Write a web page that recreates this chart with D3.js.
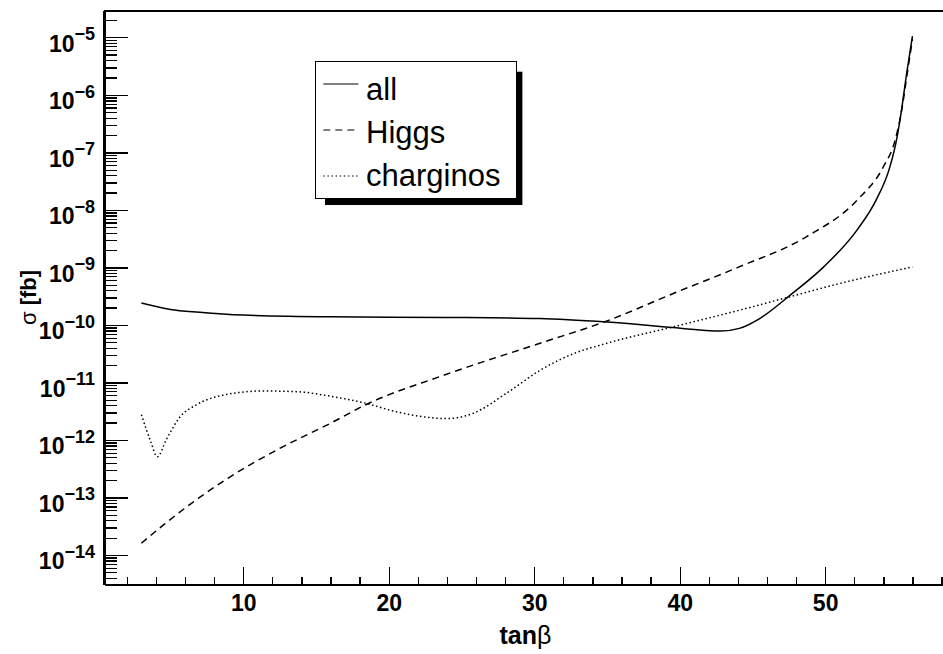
<!DOCTYPE html>
<html>
<head>
<meta charset="utf-8">
<script src="https://cdn.jsdelivr.net/npm/d3@7"></script>
<style>
  html, body { margin: 0; padding: 0; background: #fff; }
  svg { display: block; overflow: hidden; }
  text { font-family: "Liberation Sans", Arial, Helvetica, sans-serif; fill: #000; }
</style>
</head>
<body>
<svg id="chart" width="943" height="654"></svg>
<script>
// Cross sections (fb) as a function of tan(beta)
const tanBetaAll = [3, 5, 7, 10, 16, 24, 30.4, 35, 40.2, 42.8, 44.1, 45.5, 47.6, 49.9, 52.2, 53.5, 54.45, 54.9, 55.25, 55.6, 56];
const sigmaAll   = [2.4e-10, 1.86e-10, 1.66e-10, 1.48e-10, 1.38e-10, 1.35e-10, 1.29e-10, 1.12e-10, 8.7e-11, 7.8e-11, 8.7e-11,
                    1.29e-10, 3.3e-10, 1.02e-9, 4.5e-9, 1.48e-8, 5.6e-8, 1.62e-7, 5.5e-7, 2.35e-6, 1.05e-5];

const tanBetaHiggs = [3, 4.5, 7, 9, 12.5, 16, 18.6, 23.5, 30.4, 35, 39.6, 44, 48.7, 52.2, 54, 54.8, 55.25, 55.6, 56];
const sigmaHiggs   = [1.6e-14, 3.3e-14, 1.0e-13, 2.2e-13, 7.1e-13, 1.95e-12, 4.3e-12, 1.26e-11, 4.8e-11, 1.17e-10,
                      3.55e-10, 1.0e-9, 3.4e-9, 1.48e-8, 5.6e-8, 1.6e-7, 5.2e-7, 2.0e-6, 9.3e-6];

const tanBetaCharginos = [3, 3.6, 4.1, 4.7, 5.65, 6.8, 8.6, 11.4, 13.7, 16, 18.25, 20.5, 22.8, 24, 25.8, 28.1, 30.4,
                          32.7, 35, 39.6, 44.1, 47.6, 51, 56];
const sigmaCharginos   = [2.75e-12, 1.0e-12, 5.1e-13, 1.0e-12, 2.5e-12, 4.1e-12, 6.0e-12, 7.1e-12, 6.9e-12, 5.75e-12,
                          4.45e-12, 3.1e-12, 2.45e-12, 2.35e-12, 2.9e-12, 6.5e-12, 1.62e-11, 3.16e-11, 4.8e-11, 9.3e-11,
                          1.8e-10, 3.1e-10, 5.25e-10, 1.02e-9];

const seriesNames = ["all", "Higgs", "charginos"];
const xMajorTicks = [10, 20, 30, 40, 50];
const yDecadeExponents = [-14, -13, -12, -11, -10, -9, -8, -7, -6, -5];
const xTitle = "tan";
const xTitleGreek = "\u03B2";
const yTitleGreek = "\u03C3";
const yTitle = "[fb]";

// Axis ranges
const xRange = [0.43, 58.65];
const yRange = [Math.pow(10, -14.51), Math.pow(10, -4.537)];

const svg = d3.select("#chart");
const frame = { left: 104, top: 10.7, right: 951, bottom: 584.3 };

svg.append("rect").attr("width", 943).attr("height", 654).attr("fill", "#fff");

const x = d3.scaleLinear().domain(xRange).range([frame.left, frame.right]);
const y = d3.scaleLog().domain(yRange).range([frame.bottom, frame.top]);

// Tick values
const xMinorTicks = d3.range(2, 59, 2).filter(v => v % 10 !== 0 && v >= xRange[0] && v <= xRange[1]);
const yMajorTicks = yDecadeExponents.map(e => Math.pow(10, e));
const yMinorTicks = [];
for (let e = -15; e <= -5; e++) {
  for (let m = 2; m <= 9; m++) {
    const v = m * Math.pow(10, e);
    if (v >= yRange[0] && v <= yRange[1]) yMinorTicks.push(v);
  }
}

// Curves
const curves = [
  { xs: tanBetaAll, ys: sigmaAll, dash: null },
  { xs: tanBetaHiggs, ys: sigmaHiggs, dash: "7,5" },
  { xs: tanBetaCharginos, ys: sigmaCharginos, dash: "1.5,2.6" }
];
const line = d3.line().x(d => x(d[0])).y(d => y(d[1])).curve(d3.curveMonotoneX);
const plotG = svg.append("g");
curves.forEach(c => {
  plotG.append("path")
    .datum(c.xs.map((v, i) => [v, c.ys[i]]))
    .attr("d", line)
    .attr("fill", "none")
    .attr("stroke", "#000")
    .attr("stroke-width", 1.5)
    .attr("stroke-dasharray", c.dash);
});

// Axes
function styleAxis(g, width) {
  g.selectAll("path.domain").attr("stroke", "#000").attr("stroke-width", width);
  g.selectAll(".tick line").attr("stroke", "#000").attr("stroke-width", 1.3);
  g.selectAll(".tick text").remove();
  g.attr("shape-rendering", "crispEdges");
}

const yMinorG = svg.append("g").attr("transform", `translate(${frame.left},0)`)
  .call(d3.axisLeft(y).tickValues(yMinorTicks).tickSizeInner(-12.7).tickSizeOuter(0).tickFormat(() => ""));
yMinorG.select("path.domain").remove();
styleAxis(yMinorG, 2);

const yMajorG = svg.append("g").attr("transform", `translate(${frame.left},0)`)
  .call(d3.axisLeft(y).tickValues(yMajorTicks).tickSizeInner(-24).tickSizeOuter(0).tickFormat(() => ""));
styleAxis(yMajorG, 2.2);

const xMinorG = svg.append("g").attr("transform", `translate(0,${frame.bottom})`)
  .call(d3.axisBottom(x).tickValues(xMinorTicks).tickSizeInner(-7).tickSizeOuter(0).tickFormat(() => ""));
xMinorG.select("path.domain").remove();
styleAxis(xMinorG, 2);

const xMajorG = svg.append("g").attr("transform", `translate(0,${frame.bottom})`)
  .call(d3.axisBottom(x).tickValues(xMajorTicks).tickSizeInner(-17).tickSizeOuter(0).tickFormat(() => ""));
styleAxis(xMajorG, 2.2);

// Top edge of the frame
svg.append("line")
  .attr("x1", frame.left).attr("x2", frame.right)
  .attr("y1", frame.top).attr("y2", frame.top)
  .attr("stroke", "#000").attr("stroke-width", 2)
  .attr("shape-rendering", "crispEdges");

// Tick labels
xMajorG.selectAll(".tick").append("text")
  .attr("y", 27).attr("text-anchor", "middle")
  .style("font-size", "23px").style("font-weight", "bold")
  .text(d => d3.format("d")(d));

const yLab = svg.append("g");
yDecadeExponents.forEach(e => {
  const t = yLab.append("text")
    .attr("x", 95).attr("y", y(Math.pow(10, e)) + 14.5)
    .attr("text-anchor", "end")
    .style("font-weight", "bold");
  t.append("tspan").style("font-size", "23px").text("10");
  t.append("tspan").attr("dy", -11.5).style("font-size", "18px").text("\u2212" + Math.abs(e));
});

// Axis titles
const xt = svg.append("text")
  .attr("x", 525.5).attr("y", 644).attr("text-anchor", "middle")
  .style("font-size", "25px");
xt.append("tspan").style("font-weight", "bold").text(xTitle);
xt.append("tspan").text(xTitleGreek);

const yt = svg.append("text")
  .attr("transform", `translate(36,${(frame.top + frame.bottom) / 2}) rotate(-90)`)
  .attr("text-anchor", "middle")
  .style("font-size", "22px");
yt.append("tspan").text(yTitleGreek + " ");
yt.append("tspan").style("font-weight", "bold").text(yTitle);

// Legend
const legend = { x: 315, y: 61.7, w: 201.7, h: 136.6 };
svg.append("rect")
  .attr("x", legend.x + 10).attr("y", legend.y + 10)
  .attr("width", legend.w - 4.3).attr("height", legend.h - 3.3)
  .attr("fill", "#000");
svg.append("rect")
  .attr("x", legend.x).attr("y", legend.y)
  .attr("width", legend.w).attr("height", legend.h)
  .attr("fill", "#fff").attr("stroke", "#000").attr("stroke-width", 1)
  .attr("shape-rendering", "crispEdges");

seriesNames.forEach((name, i) => {
  const ly = legend.y + 22.3 + i * 46;
  svg.append("line")
    .attr("x1", legend.x + 8.3).attr("x2", legend.x + 43.3)
    .attr("y1", ly).attr("y2", ly)
    .attr("stroke", "#000").attr("stroke-width", 1.2)
    .attr("stroke-dasharray", curves[i].dash);
  svg.append("text")
    .attr("x", legend.x + 51).attr("y", legend.y + 38.3 + i * 43)
    .style("font-size", "31px")
    .text(name);
});
</script>
</body>
</html>
